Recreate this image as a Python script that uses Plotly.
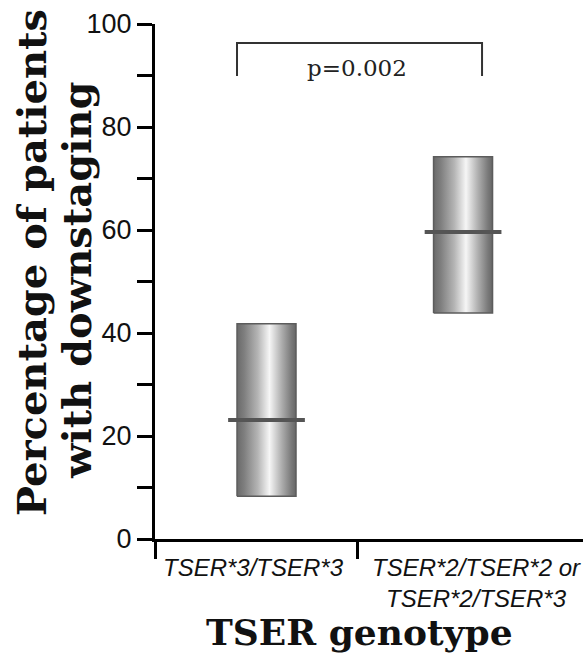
import plotly.graph_objects as go

# ---- data ----
categories = ["TSER*3/TSER*3", "TSER*2/TSER*2 or<br>TSER*2/TSER*3"]
range_low = [8.3, 43.9]
range_high = [41.8, 74.2]
median = [23.1, 59.6]
p_text = "p=0.002"
y_ticks = [0, 20, 40, 60, 80, 100]

# ---- layout constants ----
W, H = 583, 654
ML, MR, MT, MB = 155, 0, 24, 115
XMAX = 428 / 202
centers = [0.552, 1.525]
half_box = 0.146
half_med = 0.19
bracket_x = [0.406, 1.619]
bracket_top, bracket_end = 96.3, 89.9

grad = [
    [0.0, "#6a6a6a"],
    [0.12, "#7e7e7e"],
    [0.35, "#b4b4b4"],
    [0.55, "#f6f6f6"],
    [0.75, "#b0b0b0"],
    [0.92, "#7a7a7a"],
    [1.0, "#666666"],
]

fig = go.Figure()

for i, cat in enumerate(categories):
    c = centers[i]
    x0, x1 = c - half_box, c + half_box
    fig.add_trace(go.Scatter(
        x=[x0, x1, x1, x0, x0],
        y=[range_low[i], range_low[i], range_high[i], range_high[i], range_low[i]],
        mode="lines",
        fill="toself",
        fillgradient=dict(type="horizontal", colorscale=grad),
        line=dict(color="#5c5c5c", width=1.5),
        hoverinfo="skip",
        showlegend=False,
    ))
    fig.add_trace(go.Scatter(
        x=[c - half_med, c + half_med],
        y=[median[i], median[i]],
        mode="lines",
        line=dict(color="#555555", width=4),
        hoverinfo="skip",
        showlegend=False,
    ))

# significance bracket
fig.add_trace(go.Scatter(
    x=[bracket_x[0], bracket_x[0], bracket_x[1], bracket_x[1]],
    y=[bracket_end, bracket_top, bracket_top, bracket_end],
    mode="lines",
    line=dict(color="#333333", width=2),
    hoverinfo="skip",
    showlegend=False,
))

def px_x(px):
    return (px - ML) / (W - ML - MR)

def px_y(py):
    return (H - MB - py) / (H - MB - MT)

annotations = [
    dict(x=1.0, y=91.4, xref="x", yref="y", text=p_text, showarrow=False,
         font=dict(family="DejaVu Serif", size=23, color="#222222"),
         xanchor="center", yanchor="middle"),
    dict(x=px_x(253), y=px_y(568), xref="paper", yref="paper", text="<i>" + categories[0] + "</i>",
         showarrow=False, font=dict(family="Liberation Sans", size=24, color="#111111"),
         xanchor="center", yanchor="middle"),
    dict(x=px_x(476), y=px_y(583), xref="paper", yref="paper",
         text="<i>" + categories[1].replace("<br>", "</i><br><i>") + "</i>",
         showarrow=False, font=dict(family="Liberation Sans", size=24, color="#111111"),
         xanchor="center", yanchor="middle"),
    dict(x=px_x(359), y=px_y(632), xref="paper", yref="paper", text="<b>TSER genotype</b>",
         showarrow=False, font=dict(family="DejaVu Serif", size=36, color="#111111"),
         xanchor="center", yanchor="middle"),
    dict(x=px_x(31), y=px_y(263), xref="paper", yref="paper", text="<b>Percentage of patients</b>",
         showarrow=False, textangle=-90, font=dict(family="DejaVu Serif", size=40, color="#111111"),
         xanchor="center", yanchor="middle"),
    dict(x=px_x(76), y=px_y(281), xref="paper", yref="paper", text="<b>with downstaging</b>",
         showarrow=False, textangle=-90, font=dict(family="DejaVu Serif", size=40, color="#111111"),
         xanchor="center", yanchor="middle"),
]

fig.update_layout(
    width=W, height=H,
    margin=dict(l=ML, r=MR, t=MT, b=MB, pad=0),
    plot_bgcolor="white", paper_bgcolor="white",
    showlegend=False,
    annotations=annotations,
    xaxis=dict(
        range=[0, XMAX], showgrid=False, zeroline=False,
        showline=True, linecolor="black", linewidth=3,
        tickmode="array", tickvals=[0, 1], ticks="outside", ticklen=17,
        tickwidth=2.5, tickcolor="black", showticklabels=False,
    ),
    yaxis=dict(
        range=[0, 100], showgrid=False, zeroline=False,
        showline=True, linecolor="black", linewidth=3,
        tickmode="array", tickvals=y_ticks, ticks="outside", ticklen=15,
        tickwidth=2.5, tickcolor="black",
        tickfont=dict(family="Liberation Sans", size=27, color="#111111"),
        minor=dict(tickvals=[10, 30, 50, 70, 90], ticks="outside", ticklen=15,
                   tickwidth=2.5, tickcolor="black"),
    ),
)

fig.write_html(
    "out.html",
    config={"displayModeBar": False},
    post_script="document.body.style.margin='0';document.body.style.overflow='hidden';",
)
